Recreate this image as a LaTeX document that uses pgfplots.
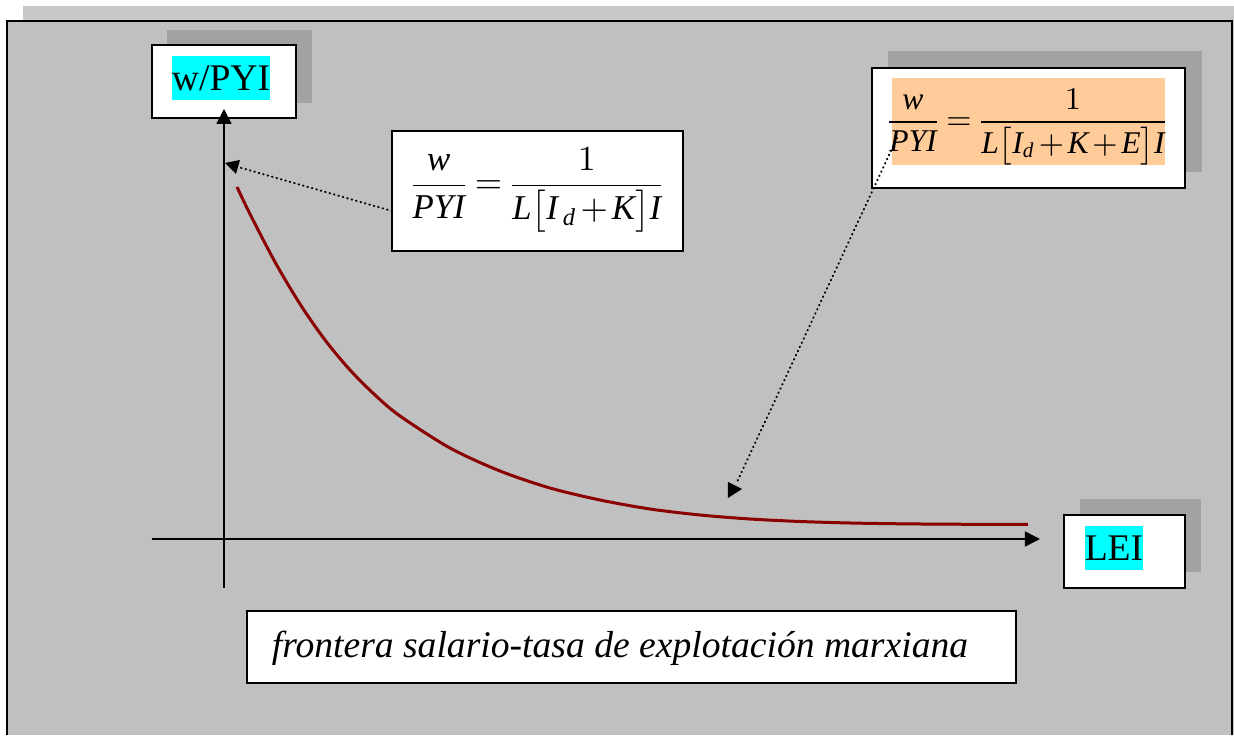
\documentclass[border=0pt]{standalone}
\usepackage{amsmath}
\usepackage{fontspec}
\setmainfont{Liberation Serif}
\usepackage{pgfplots}
\pgfplotsset{compat=1.18}
\usetikzlibrary{arrows.meta}
\definecolor{panel}{RGB}{192,192,192}
\definecolor{strip}{RGB}{200,200,200}
\definecolor{shadow}{RGB}{162,162,162}
\definecolor{curve}{RGB}{139,0,0}
\definecolor{hlcyan}{RGB}{0,255,255}
\definecolor{hlorange}{RGB}{255,204,153}
\newcommand\ti[1]{\text{\itshape #1}}
\newcommand\tightmath{\thickmuskip=3mu plus 1mu\medmuskip=2mu plus 1mu}
\tikzset{dots/.style={line width=0.2mm,line cap=round,dash pattern=on 0.06mm off 0.4mm}}
\begin{document}
\begin{tikzpicture}
\begin{axis}[width=123.4mm,height=73.5mm,scale only axis,
  xmin=0,xmax=1234,ymin=0,ymax=735,y dir=reverse,hide axis,clip=false]
\path[draw=none] (0,0) rectangle (1234,735);
% background strip and panel
\fill[strip] (23,6) rectangle (1234,735);
\fill[panel] (7,21) rectangle (1232,735);
\draw[line width=0.2mm] (7,735) -- (7,21) -- (1232,21) -- (1232,735);
% w/PYI box
\fill[shadow] (167,30) rectangle (312,103);
\filldraw[fill=white,draw=black,line width=0.2mm] (152,45) rectangle (296,118);
\fill[hlcyan] (172,56) rectangle (270,100);
\node[font=\fontsize{10.7pt}{12pt}\selectfont,inner sep=0pt] at (221,78) {w/PYI};
% LEI box
\fill[shadow] (1080,499) rectangle (1201,572);
\filldraw[fill=white,draw=black,line width=0.2mm] (1064,515) rectangle (1185,588);
\fill[hlcyan] (1085,526) rectangle (1143,570);
\node[font=\fontsize{10.7pt}{12pt}\selectfont,inner sep=0pt] at (1114,548) {LEI};
% equation box 1
\filldraw[fill=white,draw=black,line width=0.2mm] (392,131) rectangle (683,251);
\node[font=\fontsize{9.9pt}{11pt}\selectfont\tightmath,inner sep=0pt,anchor=base] at (537,194)
  {$\dfrac{\ti{w}}{\ti{PYI}} = \dfrac{1}{\ti{L}\bigl[\ti{I}_{\,\ti{d}} + \ti{K}\bigr]\ti{I}}$};
% equation box 2
\fill[shadow] (888,51) rectangle (1202,172);
\filldraw[fill=white,draw=black,line width=0.2mm] (872,68) rectangle (1185,188);
\fill[hlorange] (892,78) rectangle (1165,165);
\node[font=\fontsize{9pt}{11pt}\selectfont\tightmath,inner sep=0pt,anchor=base] at (1027,130)
  {$\dfrac{\ti{w}}{\ti{PYI}} = \dfrac{1}{\ti{L}\bigl[\ti{I}_{\ti{d}} + \ti{K} + \ti{E}\bigr]\ti{I}}$};
% bottom label
\filldraw[fill=white,draw=black,line width=0.2mm] (247,611) rectangle (1016,683);
\node[font=\fontsize{10.7pt}{12pt}\selectfont\itshape,inner sep=0pt,anchor=base] at (620,657)
  {frontera salario-tasa de explotación marxiana};
% axes
\draw[line width=0.15mm,-{Triangle[length=1.5mm,width=1.5mm]}] (224,588) -- (224,109);
\draw[line width=0.15mm,-{Triangle[length=1.5mm,width=1.5mm]}] (152,539) -- (1040,539);
% curve
\addplot[color=curve,line width=0.3mm,smooth] coordinates {
(237,187) (250,214) (275,262) (300,304) (325,340) (350,370) (375,395)
(400,416) (450,448) (500,471) (550,488) (600,500) (650,509) (700,515)
(750,519) (800,521.5) (850,523) (900,523.8) (950,524.2) (1028,524.5)};
% dotted arrows
\draw[dots] (392,211) -- (238,167);
\fill (225,163) -- (240,160) -- (236,174) -- cycle;
\draw[dots] (897,138) -- (737,482);
\fill (728,482) -- (742,489) -- (728,498) -- cycle;
\end{axis}
\end{tikzpicture}
\end{document}
